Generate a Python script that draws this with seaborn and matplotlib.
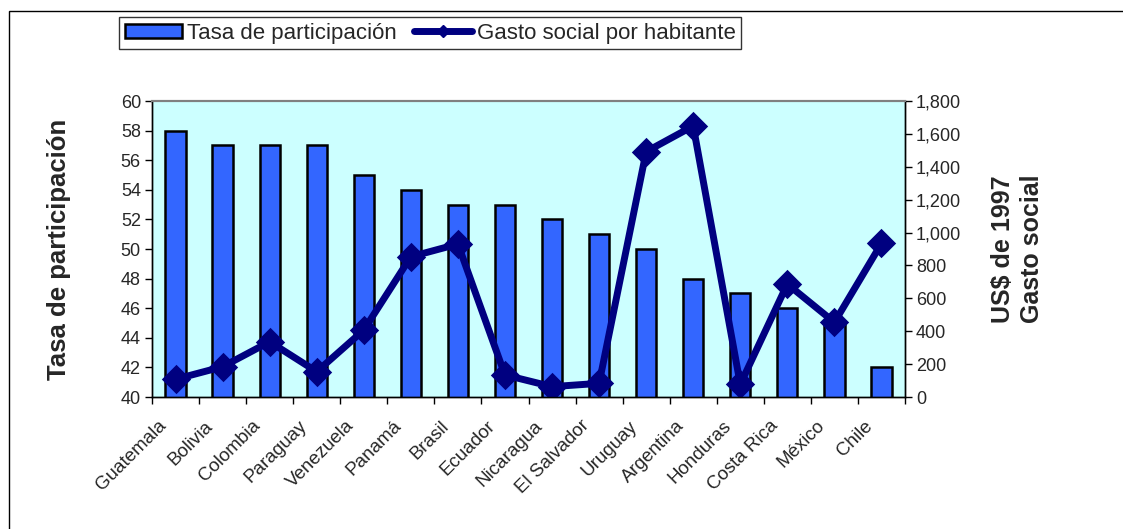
import matplotlib
matplotlib.use("Agg")
import matplotlib.pyplot as plt
import matplotlib.transforms as mtransforms
import seaborn as sns
import numpy as np
import pandas as pd
from matplotlib.patches import Patch, Rectangle
from matplotlib.lines import Line2D
from matplotlib.ticker import FuncFormatter, MultipleLocator

countries = ["Guatemala", "Bolivia", "Colombia", "Paraguay", "Venezuela", "Panamá",
             "Brasil", "Ecuador", "Nicaragua", "El Salvador", "Uruguay", "Argentina",
             "Honduras", "Costa Rica", "México", "Chile"]
tasa = [58, 57, 57, 57, 55, 54, 53, 53, 52, 51, 50, 48, 47, 46, 45, 42]
gasto = [108, 184, 336, 154, 407, 853, 930, 134, 63, 83, 1492, 1648, 77, 687, 454, 934]

sns.set_style("white")
plt.rcParams['font.family'] = ['Liberation Sans', 'DejaVu Sans']

bar_color = "#3366FF"
line_color = "#000080"
bg_color = "#CCFFFF"

fig = plt.figure(figsize=(11.23, 5.29), dpi=100)
ax = fig.add_axes([152/1123, 1-397/529, (905-152)/1123, (397-101)/529])
ax.set_facecolor(bg_color)

df = pd.DataFrame({"pais": countries, "tasa": tasa, "gasto": gasto})

sns.barplot(data=df, x="pais", y="tasa", order=countries, ax=ax, color=bar_color,
            width=0.43, edgecolor="black", linewidth=1.8, saturation=1, zorder=2)
ax.set_ylim(40, 60)
ax.yaxis.set_major_locator(MultipleLocator(2))
ax.set_xlim(-0.5, len(countries) - 0.5)

ax2 = ax.twinx()
sns.pointplot(data=df, x="pais", y="gasto", order=countries, ax=ax2, color=line_color,
              markers="D", linestyles="-", markersize=11, linewidth=5)
ax2.set_ylim(0, 1800)
ax2.yaxis.set_major_locator(MultipleLocator(200))
ax2.yaxis.set_major_formatter(FuncFormatter(lambda v, p: f"{int(v):,}"))
ax2.set_xlim(-0.5, len(countries) - 0.5)
ax2.set_xlabel("")

# x ticks: labels at centers, tick marks at boundaries
ax.set_xticks(np.arange(len(countries)))
ax.set_xticklabels(countries, rotation=45, ha="right", va="center", rotation_mode="anchor")
ax.set_xticks(np.arange(len(countries) + 1) - 0.5, minor=True)
ax.tick_params(axis="x", which="major", length=0, pad=19, labelsize=13.5)
ax.tick_params(axis="x", which="minor", length=5, width=1, color="black", direction="out", bottom=True)
ax.tick_params(axis="y", length=5, width=1, color="black", direction="out", left=True, labelsize=13, pad=3)
ax2.tick_params(axis="y", length=5, width=1, color="black", direction="out", right=True, labelsize=13, pad=3)
ax.set_xlabel("")
shift = mtransforms.ScaledTranslation(-12/100, 0, fig.dpi_scale_trans)
for lab in ax.get_xticklabels():
    lab.set_transform(lab.get_transform() + shift)

ax.set_ylabel("Tasa de participación", fontsize=18.5, fontweight="bold", labelpad=36)
ax2.set_ylabel("US$ de 1997\nGasto social", fontsize=18, fontweight="bold", labelpad=21,
               rotation=90, linespacing=1.3)

for a in (ax, ax2):
    for s in ("left", "right", "bottom"):
        a.spines[s].set_color("black")
        a.spines[s].set_linewidth(1)
    a.spines["top"].set_color("#808080")
    a.spines["top"].set_linewidth(1.5)
ax2.grid(False)
ax.grid(False)

handles = [Patch(facecolor=bar_color, edgecolor="black", linewidth=1.8),
           Line2D([0], [0], color=line_color, lw=5, marker="D", markersize=6)]
leg = fig.legend(handles, ["Tasa de participación", "Gasto social por habitante"],
                 loc="upper left", bbox_to_anchor=(119/1123, 1-17/529), ncol=2,
                 fontsize=16, frameon=True, fancybox=False, edgecolor="black",
                 handlelength=2.6, handleheight=0.6, handletextpad=0.2, columnspacing=0.8,
                 borderpad=0.25, borderaxespad=0)
leg.get_frame().set_linewidth(1)

fig.patches.append(Rectangle((9/1123, -0.1), 1.2, 1 - 11/529 + 0.1, transform=fig.transFigure,
                             fill=False, edgecolor="black", linewidth=1))

fig.savefig("out.png", dpi=100, facecolor="white")
